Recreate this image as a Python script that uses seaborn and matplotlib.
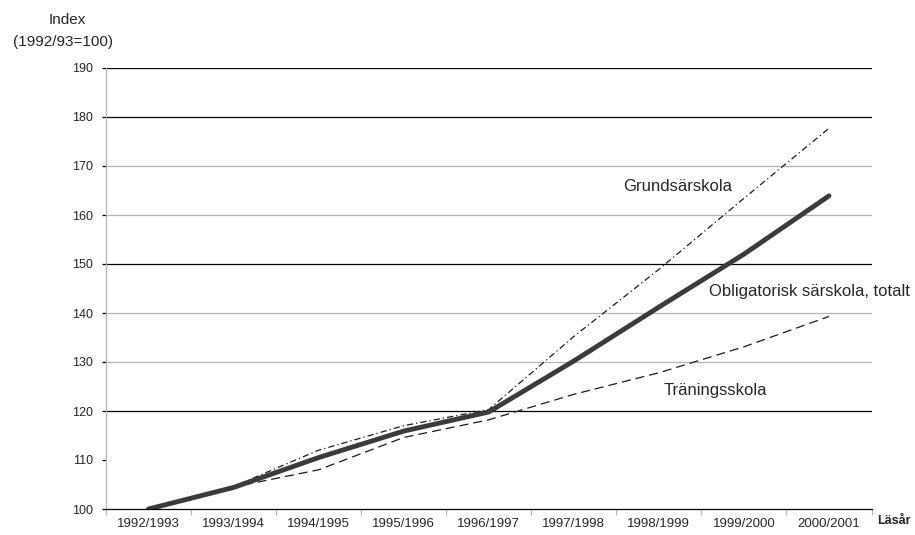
import matplotlib
matplotlib.use('Agg')
import matplotlib.pyplot as plt
import seaborn as sns
import pandas as pd

# läsår (x categories)
lasar = ['1992/1993', '1993/1994', '1994/1995', '1995/1996', '1996/1997',
         '1997/1998', '1998/1999', '1999/2000', '2000/2001']

# index values (1992/93 = 100)
totalt = [100, 104.4, 110.5, 115.9, 119.8, 130.2, 141.2, 152.0, 163.9]
grund = [100, 104.6, 112.0, 117.0, 120.3, 135.2, 148.9, 163.4, 177.7]
traning = [100, 104.5, 108.0, 114.6, 118.2, 123.4, 127.8, 133.1, 139.3]

yticks = [100, 110, 120, 130, 140, 150, 160, 170, 180, 190]

sns.set_style('white')
plt.rcParams['font.family'] = ['Liberation Sans', 'DejaVu Sans']
plt.rcParams['lines.scale_dashes'] = False

df = pd.DataFrame({'Läsår': lasar, 'totalt': totalt, 'grund': grund, 'traning': traning})

fig = plt.figure(figsize=(9.15, 5.35), dpi=100)
ax = fig.add_axes([106 / 915, 1 - 509 / 535, (871.5 - 106) / 915, (509 - 68) / 535])

# gridlines first so the lines sit on top
grid_col = {120: 'black', 130: '#b4b4b4', 140: '#b4b4b4', 150: 'black',
            160: '#b4b4b4', 170: '#b4b4b4', 180: 'black', 190: 'black'}
for v, c in grid_col.items():
    ax.axhline(v, color=c, lw=0.9, zorder=1)

sns.lineplot(data=df, x='Läsår', y='grund', ax=ax, color='#1a1a1a', lw=0.9,
             linestyle=(0, (4.5, 2.2, 0.9, 2.2)), sort=False, zorder=3)
sns.lineplot(data=df, x='Läsår', y='traning', ax=ax, color='#1a1a1a', lw=0.9,
             linestyle=(0, (6.5, 3.6)), sort=False, zorder=3)
sns.lineplot(data=df, x='Läsår', y='totalt', ax=ax, color='#3b3b3b', lw=3.5,
             solid_capstyle='round', solid_joinstyle='round', sort=False, zorder=4)

ax.set_xlim(-0.5, len(lasar) - 0.5)
ax.set_ylim(100, 190)
ax.set_yticks(yticks)
ax.set_xlabel('')
ax.set_ylabel('')

for s in ['top', 'right']:
    ax.spines[s].set_visible(False)
ax.spines['left'].set_color('#b4b4b4')
ax.spines['left'].set_linewidth(0.9)
ax.spines['bottom'].set_color('black')
ax.spines['bottom'].set_linewidth(0.9)
ax.spines['bottom'].set_zorder(5)

ax.tick_params(axis='y', which='major', left=True, length=3, width=0.9,
               color='black', labelsize=9, pad=6.5)
ax.tick_params(axis='x', which='major', bottom=False, labelsize=9.5, pad=3)

# tick marks between the categories
ax.set_xticks([i - 0.5 for i in range(len(lasar) + 1)], minor=True)
ax.tick_params(axis='x', which='minor', bottom=True, length=4, width=0.9,
               color='#b4b4b4')
for i, t in enumerate(ax.xaxis.get_minor_ticks()):
    if i in (2, 3, 8):
        t.tick1line.set_color('black')

ax.text(5.58, 165.9, 'Grundsärskola', fontsize=12, va='center', ha='left')
ax.text(6.59, 144.3, 'Obligatorisk särskola, totalt', fontsize=12,
        va='center', ha='left')
ax.text(6.06, 124.1, 'Träningsskola', fontsize=12, va='center', ha='left')

fig.text(67 / 915, 1 - 20 / 535, 'Index', fontsize=11, ha='center', va='center')
fig.text(63 / 915, 1 - 42 / 535, '(1992/93=100)', fontsize=11, ha='center', va='center')
fig.text(877 / 915, 1 - 521 / 535, 'Läsår', fontsize=9, fontweight='bold',
         ha='left', va='center')

fig.savefig('out.png', dpi=100)
